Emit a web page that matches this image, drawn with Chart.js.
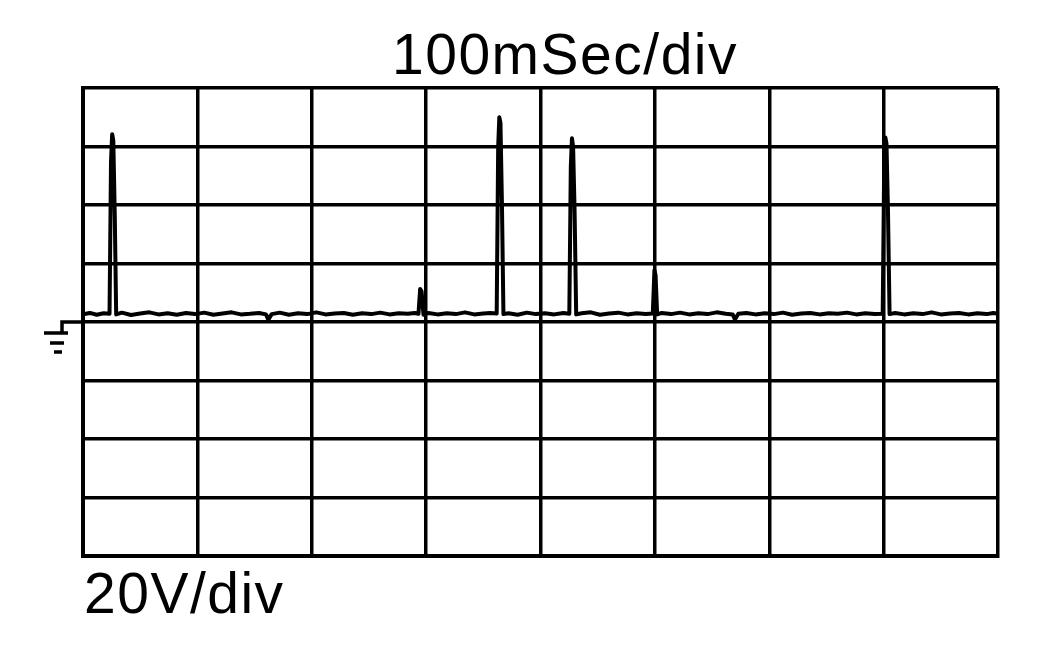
<!DOCTYPE html>
<html>
<head>
<meta charset="utf-8">
<script src="https://cdn.jsdelivr.net/npm/chart.js@4/dist/chart.umd.min.js"></script>
<style>
  html, body { margin: 0; padding: 0; background: #fff; }
  #wrap { width: 1063px; height: 661px; }
</style>
</head>
<body>
<div id="wrap"><canvas id="c" width="1063" height="661"></canvas></div>
<script>
// ---- data (time in ms, voltage in V) ----
const timeLabel = "100mSec/div";
const voltLabel = "20V/div";
const xTicks = [0, 100, 200, 300, 400, 500, 600, 700, 800];
const yTicks = [-80, -60, -40, -20, 0, 20, 40, 60, 80];

const times = [
  0, 6, 12, 18, 23.2, 24.5, 25.5, 26.5, 27.8, 29.0, 34, 42, 50, 58, 66, 74, 82, 90, 98, 106, 114,
  122, 130, 138, 146, 154, 160, 162, 165, 172, 180, 188, 196, 204, 212, 220, 228, 236, 244,
  252, 260, 268, 276, 284, 290, 293.3, 294.8, 296.0, 297.7, 302, 310, 318, 326, 334, 342, 350, 356,
  361.7, 363.0, 364.0, 365.0, 366.3, 367.6, 372, 380, 388, 396, 404, 412, 420,
  425.2, 426.5, 427.5, 428.5, 429.8, 431.2, 436, 444, 452, 460, 468, 476, 484, 492,
  498.2, 499.6, 500.6, 502.0, 506, 514, 522, 530,
  538, 546, 554, 562, 568, 570, 573, 580, 588, 596, 604, 612, 620, 628, 636, 644, 652, 660,
  668, 676, 684, 692, 699.2, 700.5, 701.5, 702.5, 703.8, 705.2, 710, 718, 726, 734, 742, 750, 758, 766,
  774, 782, 790, 796, 800
];
const volts = [
  2.6, 3.1, 2.5, 3.0, 2.8, 55, 64.2, 62, 36, 2.6, 3.2, 2.4, 2.9, 3.3, 2.6, 3.0, 2.5, 3.1, 2.7, 3.2, 2.5,
  2.9, 3.3, 2.6, 2.8, 3.1, 2.6, 0.8, 2.7, 3.2, 2.5, 3.0, 2.7, 3.3, 2.6, 2.9, 3.1, 2.5, 3.0,
  2.7, 3.2, 2.6, 3.0, 2.8, 3.1, 2.8, 11.3, 10.5, 2.5, 3.1, 2.6, 3.0, 2.7, 3.3, 2.6, 2.9, 3.1,
  2.9, 60, 70, 68, 40, 2.7, 3.0, 2.5, 3.2, 2.7, 3.0, 2.6, 3.1,
  2.8, 53, 62.8, 60, 38, 2.6, 3.0, 3.3, 2.5, 2.9, 3.2, 2.6, 3.0, 2.7,
  2.9, 17.7, 16, 2.6, 3.1, 2.7, 3.2, 2.6,
  3.0, 2.7, 3.3, 2.8, 2.6, 0.9, 2.8, 3.1, 2.6, 3.0, 2.7, 3.2, 2.5, 2.9, 3.1, 2.6, 3.0, 2.8,
  3.2, 2.6, 3.0, 2.7, 2.8, 54, 63.1, 61, 38, 2.7, 3.1, 2.6, 3.0, 2.7, 3.3, 2.6, 2.9, 3.1,
  2.6, 3.0, 2.7, 3.1, 2.8
];

const points = times.map((t, i) => ({ x: t, y: volts[i] }));

const textPlugin = {
  id: 'scopeText',
  afterDraw(chart) {
    const ctx = chart.ctx;
    const area = chart.chartArea;
    const ys = chart.scales.y;
    ctx.save();
    ctx.fillStyle = '#000';
    ctx.font = '57px "Liberation Sans", Arial, sans-serif';
    if ('letterSpacing' in ctx) ctx.letterSpacing = '1.5px';
    ctx.textBaseline = 'alphabetic';
    ctx.textAlign = 'left';
    ctx.fillText(timeLabel, 392, 74);
    ctx.fillText(voltLabel, 84, 613);
    // ground marker at the 0 V reference
    const gy = ys.getPixelForValue(0);
    ctx.strokeStyle = '#000';
    ctx.lineWidth = 3.5;
    ctx.beginPath();
    ctx.moveTo(area.left, gy); ctx.lineTo(62, gy);
    ctx.lineTo(62, gy + 11);
    ctx.moveTo(44, gy + 11); ctx.lineTo(68, gy + 11);
    ctx.moveTo(50, gy + 21); ctx.lineTo(64, gy + 21);
    ctx.moveTo(54, gy + 30); ctx.lineTo(62, gy + 30);
    ctx.stroke();
    ctx.restore();
  }
};

new Chart(document.getElementById('c'), {
  type: 'line',
  data: {
    datasets: [{
      data: points,
      borderColor: '#000',
      borderWidth: 4,
      pointRadius: 0,
      tension: 0,
      borderJoinStyle: 'round',
      fill: false
    }]
  },
  options: {
    responsive: false,
    animation: false,
    layout: { padding: { left: 83, right: 65, top: 88, bottom: 105 } },
    plugins: { legend: { display: false }, tooltip: { enabled: false }, title: { display: false } },
    scales: {
      x: {
        type: 'linear',
        min: xTicks[0], max: xTicks[xTicks.length - 1],
        afterBuildTicks: (s) => { s.ticks = xTicks.map(v => ({ value: v })); },
        ticks: { display: false },
        grid: { color: '#000', lineWidth: 3.5, drawTicks: false },
        border: { display: true, color: '#000', width: 4 }
      },
      y: {
        type: 'linear',
        min: yTicks[0], max: yTicks[yTicks.length - 1],
        afterBuildTicks: (s) => { s.ticks = yTicks.map(v => ({ value: v })); },
        ticks: { display: false },
        grid: { color: '#000', lineWidth: 3.5, drawTicks: false },
        border: { display: true, color: '#000', width: 4 }
      }
    }
  },
  plugins: [textPlugin]
});
</script>
</body>
</html>
